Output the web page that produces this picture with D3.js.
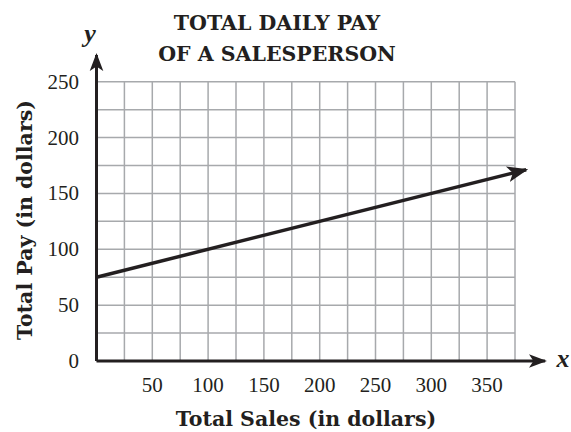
<!DOCTYPE html>
<html>
<head>
<meta charset="utf-8">
<script src="https://cdn.jsdelivr.net/npm/d3@7.9.0/dist/d3.min.js"></script>
<style>
  body { margin: 0; background: #fff; }
  text { font-family: "Liberation Serif", "DejaVu Serif", serif; fill: #231f20; }
  .title { font-family: "DejaVu Serif", serif; font-weight: bold; }
</style>
</head>
<body>
<svg id="chart" width="571" height="432"></svg>
<script>
// chart values
const xTicks = [50, 100, 150, 200, 250, 300, 350];
const yTicks = [0, 50, 100, 150, 200, 250];
const xGrid = d3.range(0, 376, 25);
const yGrid = d3.range(0, 251, 25);
const payLine = [{ sales: 0, pay: 75 }, { sales: 385, pay: 171.25 }];
const titleLines = ['TOTAL DAILY PAY', 'OF A SALESPERSON'];

const svg = d3.select('#chart');
const ink = '#231f20';

const x = d3.scaleLinear().domain([0, 375]).range([96.5, 515]);
const y = d3.scaleLinear().domain([0, 250]).range([361, 81.7]);

// arrow heads
const defs = svg.append('defs');
defs.append('marker')
  .attr('id', 'arrow')
  .attr('viewBox', '0 0 10 10')
  .attr('refX', 9).attr('refY', 5)
  .attr('markerWidth', 6).attr('markerHeight', 6)
  .attr('markerUnits', 'strokeWidth')
  .attr('orient', 'auto')
  .append('path')
  .attr('d', 'M0,1.2 L10,5 L0,8.8 L2.5,5 Z')
  .attr('fill', ink);

// grid
svg.append('g').selectAll('line').data(xGrid).join('line')
  .attr('x1', d => x(d)).attr('x2', d => x(d))
  .attr('y1', y(0)).attr('y2', y(250))
  .attr('stroke', '#a7a9ac').attr('stroke-width', 1.5);
svg.append('g').selectAll('line').data(yGrid).join('line')
  .attr('x1', x(0)).attr('x2', x(375))
  .attr('y1', d => y(d)).attr('y2', d => y(d))
  .attr('stroke', '#a7a9ac').attr('stroke-width', 1.5);

// axes
svg.append('line')
  .attr('x1', x(0)).attr('x2', x(402))
  .attr('y1', y(0)).attr('y2', y(0))
  .attr('stroke', ink).attr('stroke-width', 3)
  .attr('marker-end', 'url(#arrow)');
svg.append('line')
  .attr('x1', x(0)).attr('x2', x(0))
  .attr('y1', y(0)).attr('y2', y(274))
  .attr('stroke', ink).attr('stroke-width', 3)
  .attr('marker-end', 'url(#arrow)');

// tick labels
svg.append('g').selectAll('text').data(xTicks).join('text')
  .attr('x', d => x(d)).attr('y', 392)
  .attr('text-anchor', 'middle')
  .attr('font-size', 21)
  .text(d => d);
svg.append('g').selectAll('text').data(yTicks).join('text')
  .attr('x', 79).attr('y', d => y(d) + 7)
  .attr('text-anchor', 'end')
  .attr('font-size', 21)
  .text(d => d);

// pay line
const line = d3.line().x(d => x(d.sales)).y(d => y(d.pay));
svg.append('path')
  .datum(payLine)
  .attr('d', line)
  .attr('fill', 'none')
  .attr('stroke', ink)
  .attr('stroke-width', 3.5)
  .attr('marker-end', 'url(#arrow)');

// titles
svg.append('g').selectAll('text').data(titleLines).join('text')
  .attr('class', 'title')
  .attr('x', 277).attr('y', (d, i) => 30 + i * 31)
  .attr('text-anchor', 'middle')
  .attr('font-size', 20.5)
  .text(d => d);

svg.append('text')
  .attr('class', 'title')
  .attr('x', 306).attr('y', 426)
  .attr('text-anchor', 'middle')
  .attr('font-size', 20.5)
  .text('Total Sales (in dollars)');

svg.append('text')
  .attr('class', 'title')
  .attr('transform', 'translate(32,220) rotate(-90)')
  .attr('text-anchor', 'middle')
  .attr('font-size', 20.5)
  .text('Total Pay (in dollars)');

svg.append('text')
  .attr('x', 563).attr('y', 367)
  .attr('text-anchor', 'middle')
  .attr('font-size', 26).attr('font-weight', 'bold').attr('font-style', 'italic')
  .text('x');
svg.append('text')
  .attr('x', 90).attr('y', 42)
  .attr('text-anchor', 'middle')
  .attr('font-size', 26).attr('font-weight', 'bold').attr('font-style', 'italic')
  .text('y');
</script>
</body>
</html>
